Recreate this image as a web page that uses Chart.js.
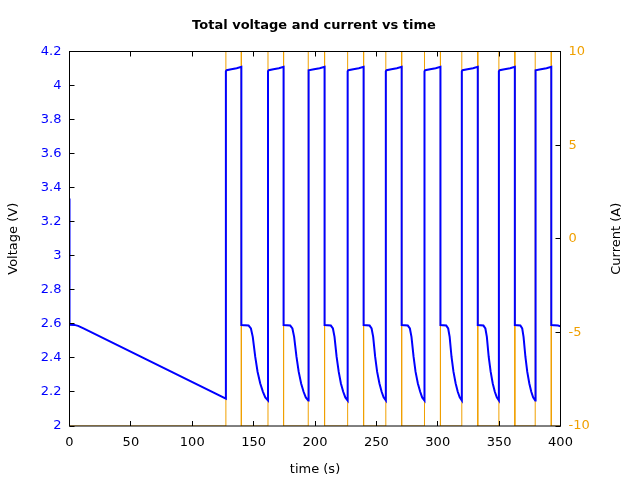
<!DOCTYPE html>
<html lang="en">
<head>
  <meta charset="UTF-8" />
  <title>Total voltage and current vs time</title>
  <script src="https://cdn.jsdelivr.net/npm/chart.js"></script>
  <style>
    body { margin: 0; background: #fff; }
    #chart { display: block; }
  </style>
</head>
<body>
  <canvas id="chart" width="640" height="480"></canvas>

  <script>
    // voltage trace (s, V)
    const voltTime = [
      0, 0, 4, 7, 11.4, 127.4,
      127.4, 128.0, 131.8, 136.2, 140.0,
      140.0, 145.9, 147.8, 149.3, 151.3, 153.2, 155.4, 157.6, 159.5, 161.7,
      161.7, 162.3, 166.1, 170.6, 174.4,
      174.4, 179.8, 181.6, 183.0, 184.9, 186.7, 188.7, 190.7, 192.5, 194.5,
      194.5, 195.1, 199.2, 203.8, 207.8,
      207.8, 212.9, 214.6, 215.9, 217.6, 219.3, 221.1, 223.0, 224.7, 226.6,
      226.6, 227.2, 231.2, 235.7, 239.6,
      239.6, 244.5, 246.1, 247.4, 249.0, 250.6, 252.5, 254.3, 255.9, 257.7,
      257.7, 258.3, 262.2, 266.7, 270.6,
      270.6, 275.6, 277.3, 278.6, 280.3, 281.9, 283.8, 285.7, 287.3, 289.2,
      289.2, 289.8, 293.8, 298.3, 302.2,
      302.2, 306.9, 308.5, 309.7, 311.2, 312.8, 314.6, 316.3, 317.9, 319.6,
      319.6, 320.2, 324.2, 328.7, 332.6,
      332.6, 337.2, 338.8, 340.0, 341.5, 343.1, 344.8, 346.5, 348.1, 349.8,
      349.8, 350.4, 354.4, 358.9, 362.8,
      362.8, 367.3, 368.8, 369.9, 371.4, 372.9, 374.6, 376.2, 377.7, 379.4,
      379.4, 380.0, 384.0, 388.6, 392.5,
      392.5, 398, 400
    ];
    const voltValue = [
      3.336, 2.595, 2.594, 2.588, 2.573, 2.16,
      4.084, 4.09, 4.096, 4.102, 4.11,
      2.593, 2.59, 2.573, 2.524, 2.407, 2.319, 2.25, 2.201, 2.168, 2.15,
      4.084, 4.09, 4.096, 4.102, 4.11,
      2.593, 2.59, 2.573, 2.524, 2.407, 2.319, 2.25, 2.201, 2.168, 2.15,
      4.084, 4.09, 4.096, 4.102, 4.11,
      2.593, 2.59, 2.573, 2.524, 2.407, 2.319, 2.25, 2.201, 2.168, 2.15,
      4.084, 4.09, 4.096, 4.102, 4.11,
      2.593, 2.59, 2.573, 2.524, 2.407, 2.319, 2.25, 2.201, 2.168, 2.15,
      4.084, 4.09, 4.096, 4.102, 4.11,
      2.593, 2.59, 2.573, 2.524, 2.407, 2.319, 2.25, 2.201, 2.168, 2.15,
      4.084, 4.09, 4.096, 4.102, 4.11,
      2.593, 2.59, 2.573, 2.524, 2.407, 2.319, 2.25, 2.201, 2.168, 2.15,
      4.084, 4.09, 4.096, 4.102, 4.11,
      2.593, 2.59, 2.573, 2.524, 2.407, 2.319, 2.25, 2.201, 2.168, 2.15,
      4.084, 4.09, 4.096, 4.102, 4.11,
      2.593, 2.59, 2.573, 2.524, 2.407, 2.319, 2.25, 2.201, 2.168, 2.15,
      4.084, 4.09, 4.096, 4.102, 4.11,
      2.593, 2.59, 2.585
    ];

    // current steps (s, A)
    const currTime = [
      0, 127.4, 127.4, 140.0, 140.0, 161.7, 161.7, 174.4, 174.4, 194.5,
      194.5, 207.8, 207.8, 226.6, 226.6, 239.6, 239.6, 257.7, 257.7, 270.6,
      270.6, 289.2, 289.2, 302.2, 302.2, 319.6, 319.6, 332.6, 332.6, 349.8,
      349.8, 362.8, 362.8, 379.4, 379.4, 392.5, 392.5, 400
    ];
    const currValue = [
      -10, -10, 10, 10, -10, -10, 10, 10, -10, -10,
      10, 10, -10, -10, 10, 10, -10, -10, 10, 10,
      -10, -10, 10, 10, -10, -10, 10, 10, -10, -10,
      10, 10, -10, -10, 10, 10, -10, -10
    ];

    const timeTicks = [0, 50, 100, 150, 200, 250, 300, 350, 400];
    const voltTicks = [2, 2.2, 2.4, 2.6, 2.8, 3, 3.2, 3.4, 3.6, 3.8, 4, 4.2];
    const currTicks = [-10, -5, 0, 5, 10];

    const BLUE = '#0000ff';
    const ORANGE = '#f0a000';
    const FONT = '"DejaVu Sans", sans-serif';

    Chart.defaults.font.family = FONT;
    Chart.defaults.font.size = 13;
    Chart.defaults.color = '#000';

    // gnuplot-like frame with inward ticks drawn over the data,
    // the title, and the right axis title (reads bottom to top like the left one)
    const frame = {
      id: 'frame',
      afterDatasetsDraw(chart) {
        const { ctx, chartArea: a, scales } = chart;
        const len = 5;
        const snap = p => Math.round(p - 0.5) + 0.5;
        ctx.save();
        ctx.strokeStyle = '#000';
        ctx.lineWidth = 1;
        ctx.strokeRect(a.left, a.top, a.right - a.left, a.bottom - a.top);
        ctx.beginPath();
        scales.x.ticks.forEach(t => {
          const p = snap(scales.x.getPixelForValue(t.value));
          ctx.moveTo(p, a.bottom); ctx.lineTo(p, a.bottom - len);
          ctx.moveTo(p, a.top); ctx.lineTo(p, a.top + len);
        });
        scales.y.ticks.forEach(t => {
          const p = snap(scales.y.getPixelForValue(t.value));
          ctx.moveTo(a.left, p); ctx.lineTo(a.left + len, p);
        });
        scales.y2.ticks.forEach(t => {
          const p = snap(scales.y2.getPixelForValue(t.value));
          ctx.moveTo(a.right, p); ctx.lineTo(a.right - len, p);
        });
        ctx.stroke();

        ctx.fillStyle = '#000';
        ctx.textAlign = 'center';
        ctx.textBaseline = 'middle';
        ctx.font = 'bold 13px ' + FONT;
        ctx.fillText('Total voltage and current vs time', 314, 26);

        ctx.translate(617, (a.top + a.bottom) / 2);
        ctx.rotate(-Math.PI / 2);
        ctx.font = '13px ' + FONT;
        ctx.fillText('Current (A)', 0, 0);
        ctx.restore();
      }
    };

    const setTicks = list => scale => { scale.ticks = list.map(v => ({ value: v })); };

    new Chart(document.getElementById('chart'), {
      type: 'line',
      data: {
        datasets: [
          {
            label: 'Voltage',
            data: voltTime.map((t, i) => ({ x: t, y: voltValue[i] })),
            borderColor: BLUE,
            borderWidth: 2,
            pointRadius: 0,
            yAxisID: 'y'
          },
          {
            label: 'Current',
            data: currTime.map((t, i) => ({ x: t, y: currValue[i] })),
            borderColor: ORANGE,
            borderWidth: 1,
            pointRadius: 0,
            yAxisID: 'y2'
          }
        ]
      },
      options: {
        responsive: false,
        animation: false,
        layout: { padding: { top: 51.5 } },
        plugins: {
          legend: { display: false },
          tooltip: { enabled: false },
          title: { display: false }
        },
        scales: {
          x: {
            type: 'linear',
            min: 0, max: 400,
            afterBuildTicks: setTicks(timeTicks),
            afterFit: s => { s.height = 54; },
            grid: { display: false, drawTicks: false },
            border: { display: false },
            ticks: { padding: 9, color: '#000', maxRotation: 0 },
            title: { display: true, text: 'time (s)', padding: { top: 0, bottom: 3 } }
          },
          y: {
            position: 'left',
            min: 2, max: 4.2,
            afterBuildTicks: setTicks(voltTicks),
            afterFit: s => { s.width = 69.5; },
            grid: { display: false, drawTicks: false },
            border: { display: false },
            ticks: { padding: 8, color: BLUE, callback: v => String(Number(v.toFixed(2))) },
            title: { display: true, text: 'Voltage (V)', padding: { top: 6, bottom: 0 } }
          },
          y2: {
            position: 'right',
            min: -10, max: 10,
            afterBuildTicks: setTicks(currTicks),
            afterFit: s => { s.width = 79.5; },
            grid: { display: false, drawTicks: false },
            border: { display: false },
            ticks: { padding: 8, color: ORANGE }
          }
        }
      },
      plugins: [frame]
    });
  </script>
</body>
</html>
